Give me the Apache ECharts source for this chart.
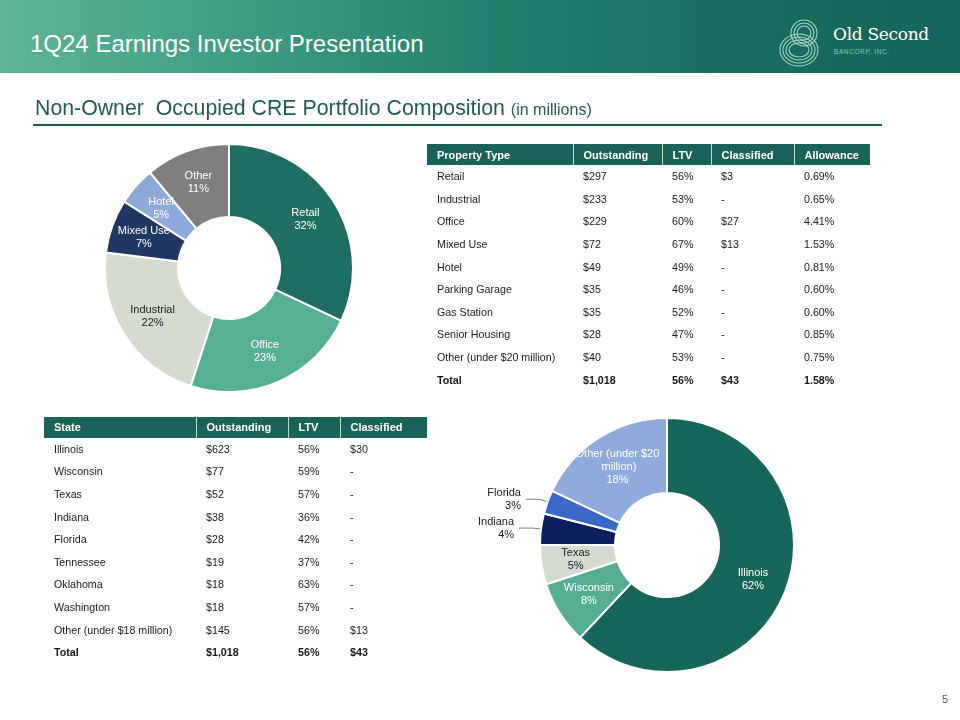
<!DOCTYPE html>
<html>
<head>
<meta charset="utf-8">
<script src="https://cdn.jsdelivr.net/npm/echarts@6/dist/echarts.min.js"></script>
<style>
  html,body{margin:0;padding:0;}
  body{width:960px;height:720px;position:relative;overflow:hidden;background:#fff;font-family:'Liberation Sans',Arial,sans-serif;}
  #header{position:absolute;left:0;top:0;width:960px;height:73px;
    background:linear-gradient(90deg,#5db595 0%,#3f9d83 25%,#23826f 50%,#1a6e60 75%,#15645a 100%);}
  #title{position:absolute;left:30px;top:29px;font-size:24px;color:#fff;line-height:30px;white-space:nowrap;}
  #logoText{position:absolute;left:833px;top:24px;font-family:'DejaVu Serif','Liberation Serif',serif;font-size:17px;color:#fff;white-space:nowrap;letter-spacing:-0.3px;}
  #logoSub{position:absolute;left:834px;top:48px;font-size:6.5px;color:#86c9b4;letter-spacing:0.6px;white-space:nowrap;}
  #logoIcon{position:absolute;left:774px;top:16px;}
  #subtitle{position:absolute;left:35px;top:94px;font-size:21.3px;color:#1d5d54;white-space:nowrap;line-height:28px;}
  #subtitle small{font-size:16px;}
  #rule{position:absolute;left:33px;top:124px;width:849px;height:2px;background:#1f5b53;}
  #chart{position:absolute;left:0;top:0;width:960px;height:720px;}
  .tbl{position:absolute;border-collapse:collapse;table-layout:fixed;font-size:10.7px;color:#1a1a1a;}
  .tbl th{background:#1a6358;color:#fff;font-weight:bold;text-align:left;padding:0 0 0 10px;font-size:11px;white-space:nowrap;}
  .tbl th+th{border-left:1.5px solid #b9dbd2;}
  .tbl td{padding:0 0 0 10px;white-space:nowrap;text-align:left;}
  .tbl tr.total td{font-weight:bold;}
  #page{position:absolute;left:942px;top:693px;font-size:11px;color:#595959;}
</style>
</head>
<body>
<div id="chart"></div>
<div id="header">
  <div id="title">1Q24 Earnings Investor Presentation</div>
  <svg id="logoIcon" width="56" height="56" viewBox="0 0 56 56">
    <g fill="none" stroke="#9fd5c3" stroke-width="1.1">
      <ellipse cx="30" cy="17" rx="13" ry="13"/>
      <ellipse cx="30" cy="17" rx="10" ry="10"/>
      <ellipse cx="30" cy="17" rx="7" ry="7"/>
      <ellipse cx="25" cy="34" rx="19" ry="16"/>
      <ellipse cx="25" cy="34" rx="16" ry="13"/>
      <ellipse cx="25" cy="34" rx="13" ry="10"/>
      <ellipse cx="25" cy="34" rx="10" ry="7"/>
    </g>
  </svg>
  <div id="logoText">Old Second</div>
  <div id="logoSub">BANCORP, INC.</div>
</div>
<div id="subtitle">Non-Owner&nbsp; Occupied CRE Portfolio Composition <small>(in millions)</small></div>
<div id="rule"></div>
<table class="tbl" id="propTable" style="left:427px;top:144px;width:443px;"></table>
<table class="tbl" id="stateTable" style="left:44px;top:417px;width:383px;"></table>
<div id="page">5</div>
<script>
// ---------- Data ----------
const propertyTypes = ['Retail', 'Office', 'Industrial', 'Mixed Use', 'Hotel', 'Other'];
const propertyShares = [32, 23, 22, 7, 5, 11];

const stateNames = ['Illinois', 'Wisconsin', 'Texas', 'Indiana', 'Florida', 'Other (under $20 million)'];
const stateShares = [62, 8, 5, 4, 3, 18];

const propertyTableHeader = ['Property Type', 'Outstanding', 'LTV', 'Classified', 'Allowance'];
const propertyTableTypes = ['Retail', 'Industrial', 'Office', 'Mixed Use', 'Hotel', 'Parking Garage', 'Gas Station', 'Senior Housing', 'Other (under $20 million)', 'Total'];
const propertyOutstanding = ['$297', '$233', '$229', '$72', '$49', '$35', '$35', '$28', '$40', '$1,018'];
const propertyLTV = ['56%', '53%', '60%', '67%', '49%', '46%', '52%', '47%', '53%', '56%'];
const propertyClassified = ['$3', '-', '$27', '$13', '-', '-', '-', '-', '-', '$43'];
const propertyAllowance = ['0.69%', '0.65%', '4.41%', '1.53%', '0.81%', '0.60%', '0.60%', '0.85%', '0.75%', '1.58%'];

const stateTableHeader = ['State', 'Outstanding', 'LTV', 'Classified'];
const stateTableStates = ['Illinois', 'Wisconsin', 'Texas', 'Indiana', 'Florida', 'Tennessee', 'Oklahoma', 'Washington', 'Other (under $18 million)', 'Total'];
const stateOutstanding = ['$623', '$77', '$52', '$38', '$28', '$19', '$18', '$18', '$145', '$1,018'];
const stateLTV = ['56%', '59%', '57%', '36%', '42%', '37%', '63%', '57%', '56%', '56%'];
const stateClassified = ['$30', '-', '-', '-', '-', '-', '-', '-', '$13', '$43'];

// ---------- Tables ----------
function buildTable(el, header, columns, widths, headH, rowH) {
  let html = '<colgroup>' + widths.map(w => '<col style="width:' + w + 'px">').join('') + '</colgroup>';
  html += '<tr style="height:' + headH + 'px">' + header.map(h => '<th>' + h + '</th>').join('') + '</tr>';
  const n = columns[0].length;
  for (let i = 0; i < n; i++) {
    const cls = (i === n - 1) ? ' class="total"' : '';
    html += '<tr' + cls + ' style="height:' + rowH + 'px">' + columns.map(c => '<td>' + c[i] + '</td>').join('') + '</tr>';
  }
  el.innerHTML = html;
}
buildTable(document.getElementById('propTable'), propertyTableHeader,
  [propertyTableTypes, propertyOutstanding, propertyLTV, propertyClassified, propertyAllowance],
  [146, 89, 49, 83, 76], 21, 22.6);
buildTable(document.getElementById('stateTable'), stateTableHeader,
  [stateTableStates, stateOutstanding, stateLTV, stateClassified],
  [152, 92, 52, 87], 20.5, 22.6);

// ---------- Charts ----------
const FONT = "'Liberation Sans', Arial, sans-serif";
const propertyColors = ['#1f6e62', '#56b094', '#d5dbcf', '#1f3763', '#8eaadb', '#7f7f7f'];
const propertyLabelColors = ['#fff', '#fff', '#222', '#fff', '#fff', '#fff'];
const stateColors = ['#17665a', '#56ae92', '#d6dbd0', '#0c1f5e', '#3a68c8', '#8faadc'];
const stateLabelColors = ['#fff', '#fff', '#222', '#222', '#222', '#fff'];
const stateOutside = [false, false, false, true, true, false];

const propertyData = propertyTypes.map((n, i) => ({
  name: n, value: propertyShares[i],
  itemStyle: { color: propertyColors[i] },
  label: { color: propertyLabelColors[i] }
}));
const stateData = stateNames.map((n, i) => {
  const d = { name: n, value: stateShares[i], itemStyle: { color: stateColors[i] },
    label: { color: stateLabelColors[i] } };
  if (stateOutside[i]) {
    d.label.position = 'outside';
    d.labelLine = { show: true, length: 8, length2: 14, lineStyle: { color: '#7f7f7f', width: 1 } };
  }
  if (i === stateNames.length - 1) {
    d.label.width = 86;
    d.label.overflow = 'break';
  }
  return d;
});

const chart = echarts.init(document.getElementById('chart'));
chart.setOption({
  animation: false,
  textStyle: { fontFamily: FONT },
  series: [
    {
      type: 'pie',
      center: [229, 268],
      radius: [51, 124],
      startAngle: 90,
      clockwise: true,
      avoidLabelOverlap: false,
      itemStyle: { borderColor: '#fff', borderWidth: 2 },
      label: { show: true, position: 'inside', formatter: '{b}\n{d}%', fontSize: 11, lineHeight: 13, fontFamily: FONT },
      labelLine: { show: false },
      emphasis: { disabled: true },
      data: propertyData
    },
    {
      type: 'pie',
      center: [667, 545],
      radius: [52, 127],
      startAngle: 90,
      clockwise: true,
      avoidLabelOverlap: false,
      itemStyle: { borderColor: '#fff', borderWidth: 2 },
      label: { show: true, position: 'inside', formatter: '{b}\n{d}%', fontSize: 11, lineHeight: 13, fontFamily: FONT, align: 'center' },
      labelLine: { show: false },
      emphasis: { disabled: true },
      data: stateData
    }
  ]
});
</script>
</body>
</html>
